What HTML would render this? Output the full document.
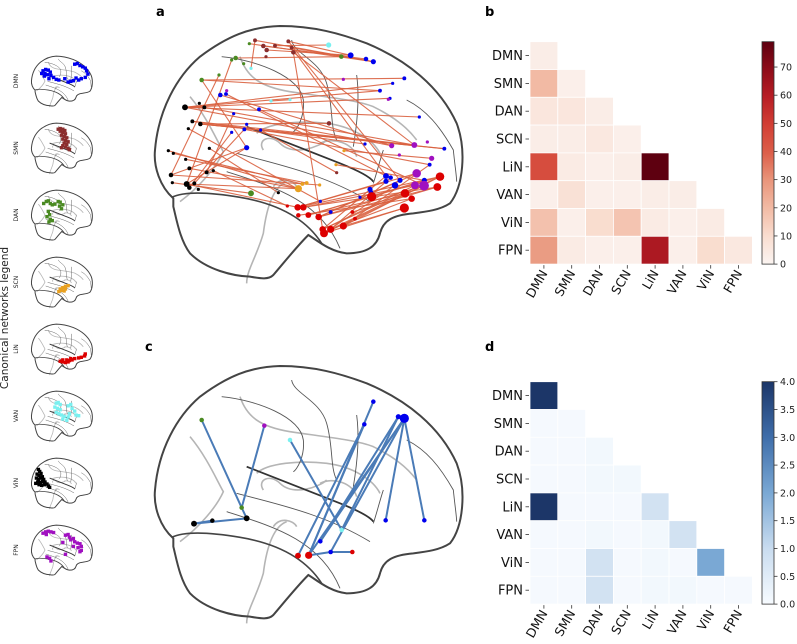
<!DOCTYPE html>
<html><head><meta charset="utf-8">
<style>
html,body{margin:0;padding:0;background:#fff;}
svg{display:block;font-family:"DejaVu Sans","Liberation Sans",sans-serif;}
</style></head>
<body>
<svg id="fig" width="797" height="644" viewBox="0 0 797 644" xmlns="http://www.w3.org/2000/svg">
<text x="156" y="16" font-size="13" font-weight="bold">a</text>
<text x="485" y="16" font-size="13" font-weight="bold">b</text>
<text x="145" y="351" font-size="13" font-weight="bold">c</text>
<text x="485" y="351" font-size="13" font-weight="bold">d</text>
<text transform="translate(8,318) rotate(-90)" text-anchor="middle" font-size="10.5" fill="#222">Canonical networks legend</text>
<g id="legend"></g>
<g id="brainA"></g>
<g id="brainC"></g>
<g id="heatB"></g>
<g id="heatD"></g>
</svg>
<script>
const NS="http://www.w3.org/2000/svg";
// ---------- data ----------
const networks=["DMN","SMN","DAN","SCN","LiN","VAN","ViN","FPN"];
const netColors={DMN:"#0000ee",SMN:"#8b2e2e",DAN:"#4a8a22",SCN:"#e8a020",LiN:"#dd0000",VAN:"#7af0f0",ViN:"#000000",FPN:"#a010c0"};
const valuesB=[[3],[20,2],[6,6,3],[3,3,5,2],[45,4,2,3,79],[2,8,2,2,3,3],[18,2,10,17,4,2,4],[28,4,2,2,62,2,10,5]];
const valuesD=[[4],[0.05,0.05],[0.05,0.05,0.1],[0.05,0.05,0.1,0.1],[4,0.05,0.05,0.05,0.8],[0.05,0.05,0.1,0.05,0.1,0.8],[0.05,0.05,0.8,0.05,0.1,0.05,2.0],[0.05,0.05,0.8,0.05,0.1,0.1,0.05,0.05]];
const ticksB=[0,10,20,30,40,50,60,70];
const ticksD=[0,0.5,1,1.5,2,2.5,3,3.5,4];
const maxB=79, maxD=4;
const legendPts={
DMN:[[220,300],[260,280],[300,290],[330,320],[250,340],[290,360],[340,370],[380,400],[310,420],[420,430],[460,440],[700,200],[740,190],[780,220],[820,240],[860,260],[880,300],[900,350],[860,400],[800,420],[760,440],[720,410],[680,450],[640,460],[600,470],[550,420],[200,340],[240,380]],
SMN:[[450,170],[480,160],[520,170],[550,190],[480,200],[520,220],[560,240],[500,260],[540,280],[580,300],[520,320],[560,340],[600,360],[540,380],[580,400],[520,420],[560,440],[600,460],[500,450],[620,480]],
DAN:[[230,280],[270,250],[300,240],[330,280],[360,300],[400,290],[450,250],[480,260],[520,300],[470,320],[500,360],[300,400],[320,450],[280,480],[330,520],[360,540],[310,560]],
LiN:[[480,640],[520,650],[560,660],[600,650],[620,630],[660,620],[700,600],[760,590],[800,580],[850,560],[520,620],[580,620],[640,600],[860,530]],
SCN:[[480,560],[520,540],[560,520],[500,580],[540,590],[560,560],[600,510],[460,600]],
VAN:[[420,260],[450,250],[480,280],[400,320],[440,340],[480,360],[420,400],[460,420],[500,440],[540,460],[600,300],[640,280],[660,340],[620,420],[700,380],[720,440],[760,450],[520,500],[580,520],[600,470]],
ViN:[[150,250],[170,280],[130,320],[160,340],[190,310],[120,380],[150,400],[180,380],[210,360],[230,400],[140,440],[180,450],[210,430],[250,440],[160,480],[200,490],[240,480],[280,470],[300,500],[320,520],[110,460]],
FPN:[[220,200],[260,180],[300,170],[340,180],[380,190],[270,220],[560,230],[600,220],[620,260],[640,300],[680,280],[700,330],[740,350],[780,360],[800,400],[750,420],[800,460],[780,480],[680,400],[520,340],[560,520],[280,560],[320,580],[340,620]]};
const nodesA=[
[135,322,"ViN",7],[178,310,"ViN",3],[193,322,"ViN",4],[157,364,"ViN",4],[181,372,"ViN",5],[145,386,"ViN",3],[85,452,"ViN",3],[100,460,"ViN",3],[137,478,"ViN",3],[148,505,"ViN",4],[93,525,"ViN",5],[97,548,"ViN",3],[140,552,"ViN",7],[148,563,"ViN",5],[163,550,"ViN",4],[200,517,"ViN",4],[220,512,"ViN",3],[208,445,"ViN",3],[175,568,"ViN",3],[415,578,"ViN",3],
[345,121,"SMN",4],[370,138,"SMN",5],[380,150,"SMN",5],[405,137,"SMN",4],[445,124,"SMN",4],[455,143,"SMN",4],[460,157,"SMN",5],[378,170,"SMN",3],[567,370,"SMN",5],[590,518,"SMN",3],
[185,240,"DAN",5],[275,180,"DAN",3],[287,174,"DAN",5],[328,131,"DAN",3],[311,191,"DAN",3],[237,225,"DAN",3],[333,580,"DAN",7],[604,170,"DAN",5],
[566,135,"VAN",6],[333,205,"VAN",3],[393,303,"VAN",3],[450,299,"VAN",3],
[632,166,"DMN",7],[678,177,"DMN",5],[700,185,"DMN",6],[793,235,"DMN",4],[758,250,"DMN",3],[720,272,"DMN",4],[750,295,"DMN",3],[241,285,"DMN",5],[258,282,"DMN",4],[357,328,"DMN",4],[281,341,"DMN",3],[320,373,"DMN",3],[313,388,"DMN",4],[275,397,"DMN",3],[362,390,"DMN",3],[320,443,"DMN",6],[838,351,"DMN",3],[675,432,"DMN",3],[913,446,"DMN",4],[738,528,"DMN",7],[752,533,"DMN",5],[780,541,"DMN",6],[738,544,"DMN",6],[765,556,"DMN",8],[690,568,"DMN",6],[693,577,"DMN",5],[853,541,"DMN",6],[869,494,"DMN",4],[660,592,"DMN",3],[541,604,"DMN",3],[572,636,"DMN",4],
[610,238,"FPN",3],[260,272,"FPN",3],[745,298,"FPN",3],[755,437,"FPN",6],[823,435,"FPN",7],[862,426,"FPN",3],[778,465,"FPN",3],[875,475,"FPN",6],[830,520,"FPN",11],[825,556,"FPN",10],[852,557,"FPN",13],
[900,530,"LiN",11],[892,561,"LiN",10],[795,580,"LiN",11],[815,596,"LiN",8],[793,624,"LiN",12],[695,590,"LiN",12],[473,622,"LiN",8],[490,622,"LiN",8],[442,618,"LiN",3],[475,646,"LiN",5],[505,645,"LiN",7],[536,651,"LiN",8],[548,688,"LiN",8],[552,700,"LiN",10],[572,688,"LiN",9],[610,678,"LiN",9],[637,636,"LiN",4],[645,656,"LiN",4],
[475,566,"SCN",9],[487,552,"SCN",4],[500,549,"SCN",4],[539,555,"SCN",3],[588,494,"SCN",3],[612,452,"SCN",3]];
const edgesA=[[135,322,758,250],[135,322,720,272],[135,322,750,295],[135,322,838,351],[135,322,755,437],[193,322,823,435],[181,372,823,435],[181,372,913,446],[157,364,675,432],[181,372,567,370],[185,240,793,235],[185,240,720,272],[185,240,320,443],[241,285,755,437],[258,282,738,528],[287,174,604,170],[275,180,140,552],[237,225,93,525],[345,121,700,185],[370,138,678,177],[380,150,632,166],[405,137,566,135],[445,124,632,166],[455,143,700,185],[460,157,823,435],[445,124,780,541],[455,143,738,528],[345,121,333,205],[328,131,700,185],[393,303,450,299],[357,328,852,557],[313,388,869,494],[362,390,590,518],[320,443,140,552],[320,443,93,525],[85,452,475,566],[100,460,487,552],[137,478,500,549],[148,505,475,566],[93,525,539,555],[140,552,475,566],[140,552,473,622],[97,548,333,580],[148,563,275,397],[163,550,313,388],[200,517,281,341],[208,445,415,578],[220,512,442,618],[145,386,541,604],[460,157,548,688],[612,452,875,475],[588,494,853,541],[473,622,900,530],[490,622,892,561],[505,645,795,580],[536,651,830,520],[548,688,900,530],[552,700,852,557],[572,688,815,596],[610,678,793,624],[548,688,738,528],[552,700,765,556],[505,645,853,541],[490,622,825,556],[536,651,892,561],[610,678,900,530],[572,688,795,580],[473,622,738,544],[552,700,793,624],[548,688,825,556],[695,590,900,530],[695,590,505,645],[637,636,892,561],[536,651,780,541],[475,646,815,596],[572,688,752,533],[610,678,869,494],[830,520,473,622],[852,557,536,651],[135,322,193,322],[181,372,913,446],[157,364,823,435]];
const nodesC=[[185,240,"DAN",5],[305,503,"DAN",5],[373,257,"FPN",5],[450,300,"VAN",5],[605,570,"VAN",5],[162,551,"ViN",7],[217,542,"ViN",5],[320,535,"ViN",7],[700,185,"DMN",5],[673,253,"DMN",5],[793,235,"DMN",12],[775,230,"DMN",6],[737,541,"DMN",5],[853,541,"DMN",5],[541,604,"DMN",5],[572,636,"DMN",5],[474,647,"LiN",7],[506,646,"LiN",9],[637,636,"LiN",5]];
const edgesC=[[185,240,305,503],[373,257,305,503],[305,503,320,535],[162,551,320,535],[162,551,217,542],[450,300,605,570],[474,647,673,253],[506,646,673,253],[506,646,700,185],[541,604,793,235],[506,646,793,235],[541,604,775,230],[572,636,793,235],[793,235,737,541],[793,235,853,541],[506,646,572,636],[572,636,637,636],[605,570,775,230]];

function el(tag,attrs,parent){const e=document.createElementNS(NS,tag);for(const k in attrs)e.setAttribute(k,attrs[k]);parent.appendChild(e);return e;}
const OUTLINE="M100,595 C60,560 40,500 45,450 C55,330 110,230 180,170 C260,110 330,80 420,78 C520,78 600,100 680,130 C800,180 900,260 950,370 C980,450 970,560 930,610 C900,630 860,635 820,640 C760,645 730,660 720,700 C710,740 680,760 620,760 C570,755 530,720 505,705 C470,740 430,790 400,825 C385,840 360,835 330,830 C280,828 200,810 150,760 C120,720 110,660 100,620 Z";
const INNER="M95,592 C130,575 200,575 300,592 C420,612 500,660 545,730";
const DARK=["M320,380 L600,490 C650,510 690,530 700,545"];
const THIN=["M290,460 C400,490 550,520 690,605","M260,515 C400,560 540,600 600,745","M455,120 C460,160 540,180 560,250 C580,320 570,380 590,420","M245,170 C350,180 480,230 490,300 C495,350 470,390 460,395","M650,225 C660,300 650,380 640,440","M800,300 C860,330 900,380 940,450 C945,500 950,530 950,545","M730,450 C720,480 710,520 700,550"];
const LIGHT=["M300,170 C320,230 360,260 450,275 C550,290 650,300 700,320 C760,350 800,380 830,420","M150,290 C200,350 230,420 250,455 C230,500 180,560 120,605","M350,400 C380,370 480,360 560,370 C640,380 700,420 720,460","M440,545 C400,560 380,620 370,700 C350,770 320,810 320,850","M370,450 C350,420 390,400 420,430 C460,470 540,440 560,420","M540,430 C580,410 640,430 650,470","M400,560 C420,530 460,540 470,560"];
function drawBrain(g,ox,oy,k,sw){
  const t=el("g",{transform:`translate(${ox},${oy}) scale(${k})`},g);
  
  
  LIGHT.forEach(d=>el("path",{d,fill:"none",stroke:"#b5b5b5","stroke-width":sw*0.8,"vector-effect":"non-scaling-stroke"},t));
  THIN.forEach(d=>el("path",{d,fill:"none",stroke:"#555","stroke-width":sw*0.45,"vector-effect":"non-scaling-stroke"},t));
  DARK.forEach(d=>el("path",{d,fill:"none",stroke:"#333","stroke-width":sw*0.9,"vector-effect":"non-scaling-stroke"},t));
  el("path",{d:INNER,fill:"none",stroke:"#444","stroke-width":sw*0.8,"vector-effect":"non-scaling-stroke"},t);
  el("path",{d:OUTLINE,fill:"none",stroke:"#444","stroke-width":sw,"vector-effect":"non-scaling-stroke"},t);
}
const legend=document.getElementById("legend");
const mk=0.066;
networks.forEach((n,i)=>{
  const cy=81+67*i, ox=28.5, oy=cy-30;
  const g=el("g",{},legend);
  
  
  drawBrain(g,ox,oy,mk,1);
  legendPts[n].forEach(p=>{
    const c=el("rect",{x:ox+p[0]*mk-1.7,y:oy+p[1]*mk-1.7,width:3.4,height:3.4,fill:netColors[n]},g);
    
    
  });
  const t=el("text",{transform:`translate(18,${cy}) rotate(-90)`,"text-anchor":"middle","font-size":"6",fill:"#222"},g);
  t.textContent=n;
  
  
});
function drawNet(gid,oy,nodes,edges,ecol,ew,eop){
  const g=document.getElementById(gid);
  drawBrain(g,140,oy,1/3,2);
  const X=v=>140+v/3, Y=v=>oy+v/3;
  edges.forEach(e=>{
    const l=el("line",{x1:X(e[0]),y1:Y(e[1]),x2:X(e[2]),y2:Y(e[3]),stroke:ecol,"stroke-width":ew,"stroke-opacity":eop},g);
    
    
  });
  nodes.forEach(n=>{
    const c=el("circle",{cx:X(n[0]),cy:Y(n[1]),r:n[3]/3+0.6,fill:netColors[n[2]]},g);
    
    
  });
}
drawNet("brainA",0,nodesA,edgesA,"#d9613f",1.1,0.9);
drawNet("brainC",340,nodesC,edgesC,"#4a7bb7",2,1);
function hex(h){return [1,3,5].map(i=>parseInt(h.substr(i,2),16));}
function interp(stops,f){f=Math.max(0,Math.min(1,f));const n=stops.length-1;const i=Math.min(n-1,Math.floor(f*n));const t=f*n-i;const a=hex(stops[i]),b=hex(stops[i+1]);return `rgb(${a.map((v,k)=>Math.round(v+(b[k]-v)*t)).join(",")})`;}
const redStops=["#fbf4f1","#f9ddd0","#f2bba5","#e9967c","#dc5f4a","#d23f35","#b81e25","#8e0c19","#5e0010"];
const blueStops=["#f7fbff","#c9dcef","#7aa8d4","#3f6eaa","#1c3668"];
function heat(gid,y0,vals,max,stops,ticks,fmt){
  const g=document.getElementById(gid);
  const x0=530,cs=27.8;
  vals.forEach((row,i)=>row.forEach((v,j)=>{
    const r=el("rect",{x:x0+j*cs,y:y0+i*cs,width:cs,height:cs,fill:interp(stops,v/max),stroke:"#fff","stroke-width":0.8},g);
    
    
  }));
  networks.forEach((n,i)=>{
    const cy=y0+(i+0.5)*cs;
    el("line",{x1:525.5,y1:cy,x2:529,y2:cy,stroke:"#333","stroke-width":0.8},g);
    const t=el("text",{x:523,y:cy+4.5,"text-anchor":"end","font-size":"13",fill:"#111"},g);
    t.textContent=n;
    
    
    const cx=x0+(i+0.5)*cs, by=y0+8*cs;
    el("line",{x1:cx,y1:by+1,x2:cx,y2:by+4.5,stroke:"#333","stroke-width":0.8},g);
    const xt=el("text",{transform:`translate(${cx+4},${by+9}) rotate(-60)`,"text-anchor":"end","font-size":"12.5",fill:"#111"},g);
    xt.textContent=n;
    
    
  });
  const cbx=762,cbw=12,ch=8*cs;
  const gid2=gid+"grad";
  const defs=el("defs",{},g);
  const lg=el("linearGradient",{id:gid2,x1:0,y1:1,x2:0,y2:0},defs);
  stops.forEach((s,k)=>el("stop",{offset:k/(stops.length-1),"stop-color":s},lg));
  const cb=el("rect",{x:cbx,y:y0,width:cbw,height:ch,fill:`url(#${gid2})`,stroke:"#333","stroke-width":0.8},g);
  
  
  ticks.forEach(tv=>{
    const ty=y0+ch-tv/max*ch;
    el("line",{x1:cbx+cbw,y1:ty,x2:cbx+cbw+3.5,y2:ty,stroke:"#333","stroke-width":0.8},g);
    const t=el("text",{x:cbx+cbw+6,y:ty+3.5,"font-size":"9.5",fill:"#222"},g);
    t.textContent=fmt(tv);
    
    
  });
}
heat("heatB",41.7,valuesB,maxB,redStops,ticksB,v=>String(v));
heat("heatD",381.7,valuesD,maxD,blueStops,ticksD,v=>v.toFixed(1));
</script>
</body></html>
